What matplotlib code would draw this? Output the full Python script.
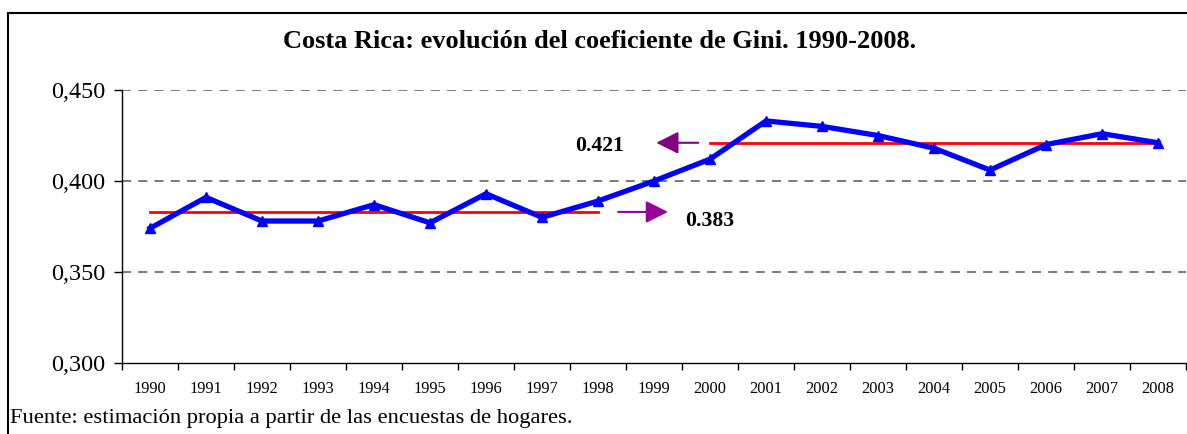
import matplotlib
matplotlib.use("Agg")
import matplotlib.pyplot as plt
from matplotlib.patches import Rectangle
from matplotlib.ticker import FixedLocator, FuncFormatter

years = ["1990", "1991", "1992", "1993", "1994", "1995", "1996", "1997", "1998", "1999",
         "2000", "2001", "2002", "2003", "2004", "2005", "2006", "2007", "2008"]
gini = [0.374, 0.391, 0.378, 0.378, 0.387, 0.377, 0.393, 0.380, 0.389, 0.400,
        0.412, 0.433, 0.430, 0.425, 0.418, 0.406, 0.420, 0.426, 0.421]
# periods for the average lines
mean1_years = years[0:9]
mean2_years = years[10:19]
mean1 = 0.383
mean2 = 0.421
y_ticks = [0.300, 0.350, 0.400, 0.450]

plt.rcParams["font.family"] = ["Liberation Serif", "DejaVu Serif"]

W, H = 1187, 434
fig = plt.figure(figsize=(W / 100, H / 100), dpi=100)
ax = fig.add_axes([122 / W, 1 - 363 / H, (1186 - 122) / W, (363 - 90) / H])

x = list(range(len(years)))
x1 = [years.index(y) for y in mean1_years]
x2 = [years.index(y) for y in mean2_years]

# dashed gridlines
for v in y_ticks[1:]:
    ax.axhline(v, color="#707070", lw=1.3, ls=(0, (5, 4)), zorder=1)

ax.plot(x1, [mean1] * len(x1), color="#ff0000", lw=2.0, zorder=2)
ax.plot(x2, [mean2] * len(x2), color="#ff0000", lw=2.0, zorder=2)
ax.plot(x, gini, color="#0000ff", lw=3.8, marker="^", markersize=7.5, zorder=3)

# arrows + labels for the averages
ax.annotate("", xy=(9.25, mean1), xytext=(8.36, mean1),
            arrowprops=dict(arrowstyle="-|>", color="#990099", lw=1.5,
                            mutation_scale=34, shrinkA=0, shrinkB=0))
ax.annotate("", xy=(9.04, mean2), xytext=(9.79, mean2),
            arrowprops=dict(arrowstyle="-|>", color="#800080", lw=1.5,
                            mutation_scale=34, shrinkA=0, shrinkB=0))
ax.text(9.55, mean1 - 0.0052, f"{mean1:.3f}", fontsize=15.7, fontweight="bold",
        ha="left", va="center")
ax.text(7.59, mean2 - 0.0019, f"{mean2:.3f}", fontsize=15.7, fontweight="bold",
        ha="left", va="center")

ax.set_xlim(-0.5, len(years) - 0.5)
ax.set_ylim(y_ticks[0], y_ticks[-1])
ax.set_yticks(y_ticks)
ax.yaxis.set_major_formatter(FuncFormatter(lambda v, p: f"{v:.3f}".replace(".", ",")))
ax.tick_params(axis="y", labelsize=17.4, length=6, width=1, pad=6)

ax.xaxis.set_major_locator(FixedLocator([i - 0.5 for i in range(len(years) + 1)]))
ax.xaxis.set_major_formatter(FuncFormatter(lambda v, p: ""))
ax.set_xticks(x, minor=True)
ax.set_xticklabels(years, minor=True)
ax.tick_params(axis="x", which="major", length=5, width=1)
ax.tick_params(axis="x", which="minor", length=0, labelsize=11.8, pad=13)

for s in ["top", "right"]:
    ax.spines[s].set_visible(False)
for s in ["left", "bottom"]:
    ax.spines[s].set_linewidth(1.0)

fig.text(600 / W, 1 - 42 / H, "Costa Rica: evolución del coeficiente de Gini. 1990-2008.",
         fontsize=19, fontweight="bold", ha="center", va="center")
fig.text(10 / W, 1 - 418 / H, "Fuente: estimación propia a partir de las encuestas de hogares.",
         fontsize=16.2, ha="left", va="center")

# outer frame of the chart
fig.patches.append(Rectangle((8 / W, -0.1), 2, 1.1 - 13.5 / H, transform=fig.transFigure,
                             fill=False, edgecolor="black", lw=1.5, clip_on=False))

fig.savefig("out.png", dpi=100)
